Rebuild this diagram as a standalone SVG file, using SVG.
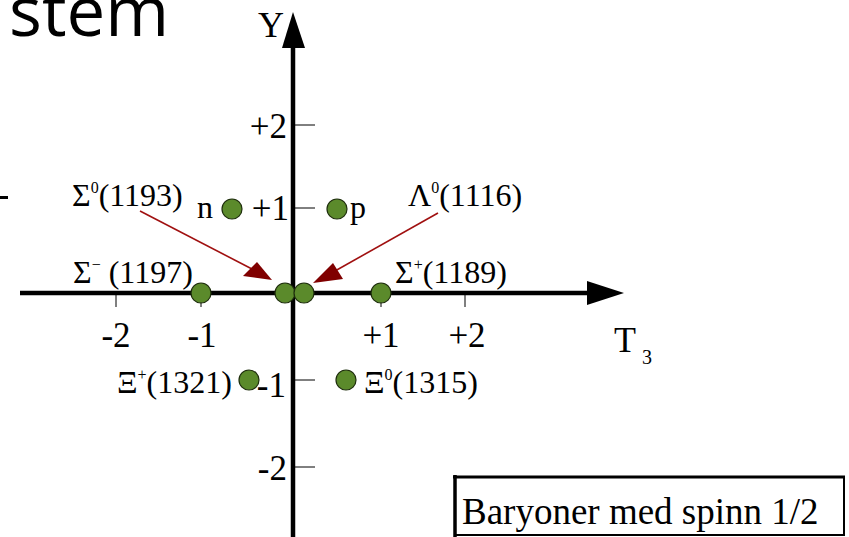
<svg xmlns="http://www.w3.org/2000/svg" width="849" height="537" viewBox="0 0 849 537">
<style>
.t{font-family:"Liberation Serif","Times New Roman",serif;font-size:32px;fill:#000}
.k{font-size:35px}
.sup{font-size:16px}
.dot{fill:#5b8a2b;stroke:#1e2e0c;stroke-width:1.2}
.tick{stroke:#000;stroke-width:1}
.axis{stroke:#000;stroke-width:4.5;fill:none}
.red{stroke:#a01010;stroke-width:1.6;fill:none}
</style>
<rect width="849" height="537" fill="#fff"/>
<text x="9" y="36" style="font-family:'Open Sans','DejaVu Sans',sans-serif;font-size:69px">stem</text>
<rect x="0" y="196" width="8" height="3" fill="#000"/>
<g id="connectors">
  <line class="axis" x1="293" y1="537" x2="293" y2="44"/>
  <polygon points="293,12 282,48 305,48" fill="#000"/>
  <line class="axis" x1="20" y1="293" x2="590" y2="293"/>
  <polygon points="624,293 587,281 587,305" fill="#000"/>
  <line class="tick" x1="116" y1="293" x2="116" y2="307"/>
  <line class="tick" x1="201" y1="293" x2="201" y2="307"/>
  <line class="tick" x1="381" y1="293" x2="381" y2="307"/>
  <line class="tick" x1="465" y1="293" x2="465" y2="307" stroke="#666"/>
  <line class="tick" x1="293" y1="125" x2="315" y2="125"/>
  <line class="tick" x1="293" y1="208" x2="315" y2="208"/>
  <line class="tick" x1="293" y1="380" x2="315" y2="380"/>
  <line class="tick" x1="293" y1="467" x2="315" y2="467"/>
  <line class="red" x1="140" y1="211" x2="252" y2="269"/>
  <polygon points="272,280 243,276 257,262" fill="#800000"/>
  <line class="red" x1="438" y1="213" x2="335" y2="271"/>
  <polygon points="313,283 333,263 343,279" fill="#800000"/>
</g>
<g id="axis-labels">
  <text class="t" x="258" y="37" style="font-size:36px">Y</text>
  <text class="t" x="614" y="352" style="font-size:36px">T</text>
  <text class="t" x="642" y="364" style="font-size:20px">3</text>
  <text class="t k" x="287" y="138" text-anchor="end">+2</text>
  <text class="t k" x="289" y="220" text-anchor="end">+1</text>
  <text class="t k" x="286" y="397" text-anchor="end">-1</text>
  <text class="t k" x="287" y="480" text-anchor="end">-2</text>
  <text class="t k" x="116" y="347" text-anchor="middle">-2</text>
  <text class="t k" x="202" y="347" text-anchor="middle">-1</text>
  <text class="t k" x="381" y="347" text-anchor="middle">+1</text>
  <text class="t k" x="467" y="347" text-anchor="middle">+2</text>
</g>
<g id="n"><circle class="dot" cx="232" cy="209" r="10"/><text class="t" x="197" y="218">n</text></g>
<g id="p"><circle class="dot" cx="337" cy="209" r="10"/><text class="t" x="350" y="218">p</text></g>
<g id="sigma-minus"><circle class="dot" cx="201" cy="293" r="10"/><text class="t" x="73" y="283">Σ<tspan class="sup" dy="-13">−</tspan><tspan dy="13"> (1197)</tspan></text></g>
<g id="sigma-zero"><circle class="dot" cx="285" cy="293" r="10"/><text class="t" x="72" y="206">Σ<tspan class="sup" dy="-13">0</tspan><tspan dy="13">(1193)</tspan></text></g>
<g id="lambda-zero"><circle class="dot" cx="304" cy="293" r="10"/><text class="t" x="408" y="206">Λ<tspan class="sup" dy="-13">0</tspan><tspan dy="13">(1116)</tspan></text></g>
<g id="sigma-plus"><circle class="dot" cx="381" cy="293" r="10"/><text class="t" x="395" y="283">Σ<tspan class="sup" dy="-13">+</tspan><tspan dy="13">(1189)</tspan></text></g>
<g id="xi-minus"><circle class="dot" cx="249" cy="380" r="10"/><text class="t" x="117" y="393">Ξ<tspan class="sup" dy="-13">+</tspan><tspan dy="13">(1321)</tspan></text></g>
<g id="xi-zero"><circle class="dot" cx="346" cy="380" r="10"/><text class="t" x="364" y="393">Ξ<tspan class="sup" dy="-13">0</tspan><tspan dy="13">(1315)</tspan></text></g>
<g id="legend">
  <rect x="455" y="477" width="389" height="58" fill="#fff" stroke="#000" stroke-width="2"/>
  <line x1="455" y1="475" x2="455" y2="537" stroke="#000" stroke-width="3.5"/>
  <line x1="453" y1="477" x2="845" y2="477" stroke="#000" stroke-width="3"/>
  <text class="t" x="462" y="524" style="font-size:37px">Baryoner med spinn 1/2</text>
</g>
</svg>
